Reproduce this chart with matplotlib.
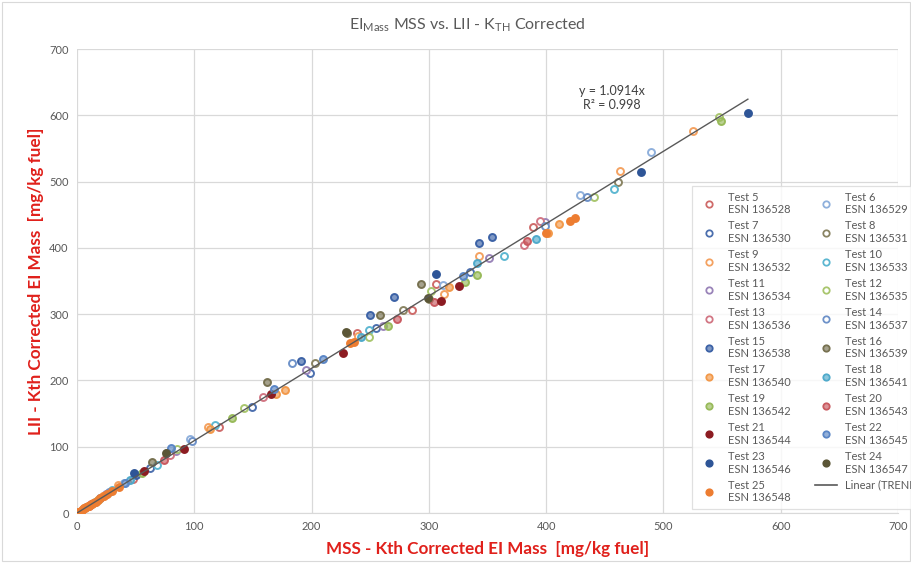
import matplotlib
matplotlib.use("Agg")
import matplotlib.pyplot as plt
from matplotlib.lines import Line2D
from matplotlib.patches import Rectangle

plt.rcParams["font.family"] = ["Lato", "DejaVu Sans"]

# Данные по тестам: MSS (x) и LII (y), мг/кг топлива
tests = ["Test 5", "Test 6", "Test 7", "Test 8", "Test 9", "Test 10", "Test 11",
         "Test 12", "Test 13", "Test 14", "Test 15", "Test 16", "Test 17",
         "Test 18", "Test 19", "Test 20", "Test 21", "Test 22", "Test 23",
         "Test 24", "Test 25"]
esn = ["ESN 136528", "ESN 136529", "ESN 136530", "ESN 136531", "ESN 136532",
       "ESN 136533", "ESN 136534", "ESN 136535", "ESN 136536", "ESN 136537",
       "ESN 136538", "ESN 136539", "ESN 136540", "ESN 136541", "ESN 136542",
       "ESN 136543", "ESN 136544", "ESN 136545", "ESN 136546", "ESN 136547",
       "ESN 136548"]

x5 = [12, 48, 121, 239, 286, 306, 389]
y5 = [13, 52, 130, 272, 307, 345, 431]
x6 = [8, 40, 96, 312, 429, 489]
y6 = [9, 45, 111, 344, 480, 544]
x7 = [20, 62, 149, 199, 255, 335]
y7 = [22, 68, 160, 211, 279, 364]
x8 = [15, 77, 203, 278, 300, 461]
y8 = [16, 90, 226, 307, 323, 499]
x9 = [6, 35, 112, 240, 313, 343, 463, 525]
y9 = [7, 42, 129, 267, 330, 387, 516, 576]
x10 = [30, 68, 118, 249, 364, 458]
y10 = [35, 72, 133, 276, 388, 489]
x11 = [25, 84, 195, 261, 351, 399]
y11 = [28, 93, 216, 282, 384, 439]
x12 = [18, 85, 142, 249, 302, 441, 547]
y12 = [20, 96, 158, 265, 335, 477, 598]
x13 = [10, 79, 159, 381, 395]
y13 = [11, 88, 175, 405, 441]
x14 = [27, 98, 183, 399, 435]
y14 = [32, 108, 227, 433, 476]
x15 = [50, 191, 250, 270, 343, 354]
y15 = [58, 229, 299, 326, 408, 417]
x16 = [64, 162, 230, 258, 293]
y16 = [77, 197, 272, 299, 345]
x17 = [22, 113, 170, 177, 317, 402, 411]
y17 = [25, 127, 179, 185, 341, 423, 436]
x18 = [45, 242, 341, 391]
y18 = [50, 265, 377, 414]
x19 = [55, 132, 265, 331, 341, 549]
y19 = [60, 143, 282, 349, 359, 592]
x20 = [74, 273, 304, 384]
y20 = [80, 293, 318, 411]
x21 = [57, 91, 165, 227, 310, 326]
y21 = [64, 96, 179, 242, 320, 342]
x22 = [41, 80, 168, 210, 329]
y22 = [45, 98, 187, 232, 358]
x23 = [49, 306, 481, 572]
y23 = [60, 361, 514, 604]
x24 = [76, 229, 299]
y24 = [90, 273, 324]
x25 = [1, 2, 3, 4, 5, 6, 7, 8, 9, 10, 11, 13, 14, 16, 18, 20, 23, 26, 30, 36,
       233, 236, 420, 425, 400]
y25 = [1, 2, 3, 5, 6, 7, 8, 9, 10, 11, 12, 14, 15, 17, 20, 22, 25, 28, 33, 39,
       256, 258, 440, 445, 423]

xs = [x5, x6, x7, x8, x9, x10, x11, x12, x13, x14, x15, x16, x17, x18, x19,
      x20, x21, x22, x23, x24, x25]
ys = [y5, y6, y7, y8, y9, y10, y11, y12, y13, y14, y15, y16, y17, y18, y19,
      y20, y21, y22, y23, y24, y25]

slope = 1.0914
r2 = 0.998

colors = ["#CF6B6A", "#8FB0DC", "#4C6FAE", "#8A8463", "#F4A261", "#5DB7D1",
          "#9A84B9", "#A9C66E", "#D27684", "#6E92C9", "#3C62A6", "#777150",
          "#F2994A", "#4FAACB", "#98BA5A", "#C95A60", "#8C1C22", "#5A86C6",
          "#2E5597", "#5B5636", "#ED7D31"]
# 0 - пустой маркер, 1 - полупрозрачная заливка, 2 - сплошной
fill = [0] * 10 + [1] * 6 + [2, 1, 2, 2, 2]

fig = plt.figure(figsize=(9.12, 5.63), dpi=100)
ax = fig.add_axes([77 / 912, 1 - 513 / 563, (898 - 77) / 912, (513 - 49) / 563])

handles = []
for i in range(len(tests)):
    c = colors[i]
    if fill[i] == 0:
        fc = "white"
    elif fill[i] == 1:
        fc = matplotlib.colors.to_rgba(c, 0.65)
    else:
        fc = c
    ax.plot(xs[i], ys[i], "o", ms=5.0, mfc=fc, mec=c, mew=1.4, zorder=3)
    handles.append(Line2D([], [], ls="none", marker="o", ms=4.6, mfc=fc,
                          mec=c, mew=1.3, label=tests[i] + "\n" + esn[i]))

# линия тренда через начало координат
xmax = max(max(x) for x in xs)
ax.plot([0, xmax], [0, slope * xmax], color="#595959", lw=1.0, zorder=4)
trend = Line2D([], [], color="#595959", lw=1.2, label="Linear (TREND)")

ax.text(456, 626, "y = %.4fx\nR² = %.3f" % (slope, r2), ha="center",
        va="center", fontsize=9, color="#404040", linespacing=1.2)

ax.set_xlim(0, 700)
ax.set_ylim(0, 700)
ax.set_xticks(range(0, 701, 100))
ax.set_yticks(range(0, 701, 100))
ax.grid(True, color="#D9D9D9", lw=0.9)
ax.set_axisbelow(True)
for s in ax.spines.values():
    s.set_visible(False)
ax.spines["bottom"].set_visible(True)
ax.spines["bottom"].set_color("#D9D9D9")
ax.tick_params(length=0, labelsize=8, colors="#595959", pad=6)

ax.set_xlabel("MSS - Kth Corrected EI Mass  [mg/kg fuel]", color="#E0201B",
              fontsize=12.3, fontweight="bold", labelpad=6)
ax.set_ylabel("LII - Kth Corrected EI Mass  [mg/kg fuel]", color="#E0201B",
              fontsize=12.3, fontweight="bold", labelpad=4)

fig.text(0.512, 1 - 25 / 563,
         r"EI$_{\mathregular{Mass}}$ MSS vs. LII - K$_{\mathregular{TH}}$ Corrected",
         ha="center", va="center", fontsize=11.5, color="#595959")

# легенда по строкам: в matplotlib колонки заполняются сверху вниз
order = list(range(0, 21, 2)) + list(range(1, 21, 2))
leg_handles = [handles[i] for i in order] + [trend]
leg = fig.legend(handles=leg_handles, ncol=2, loc="upper left",
                 bbox_to_anchor=(692 / 912, 1 - 186 / 563), fontsize=8,
                 frameon=True, fancybox=False, labelspacing=0.45,
                 handlelength=2.0, handletextpad=0.7, columnspacing=2.2,
                 borderpad=0.5, borderaxespad=0, labelcolor="#595959")
leg.get_frame().set_edgecolor("#D9D9D9")
leg.get_frame().set_linewidth(0.9)

fig.patches.append(Rectangle((0.002, 0.003), 0.996, 0.994, transform=fig.transFigure,
                             fill=False, edgecolor="#D9D9D9", lw=0.8))

plt.savefig("out.png", dpi=100)
